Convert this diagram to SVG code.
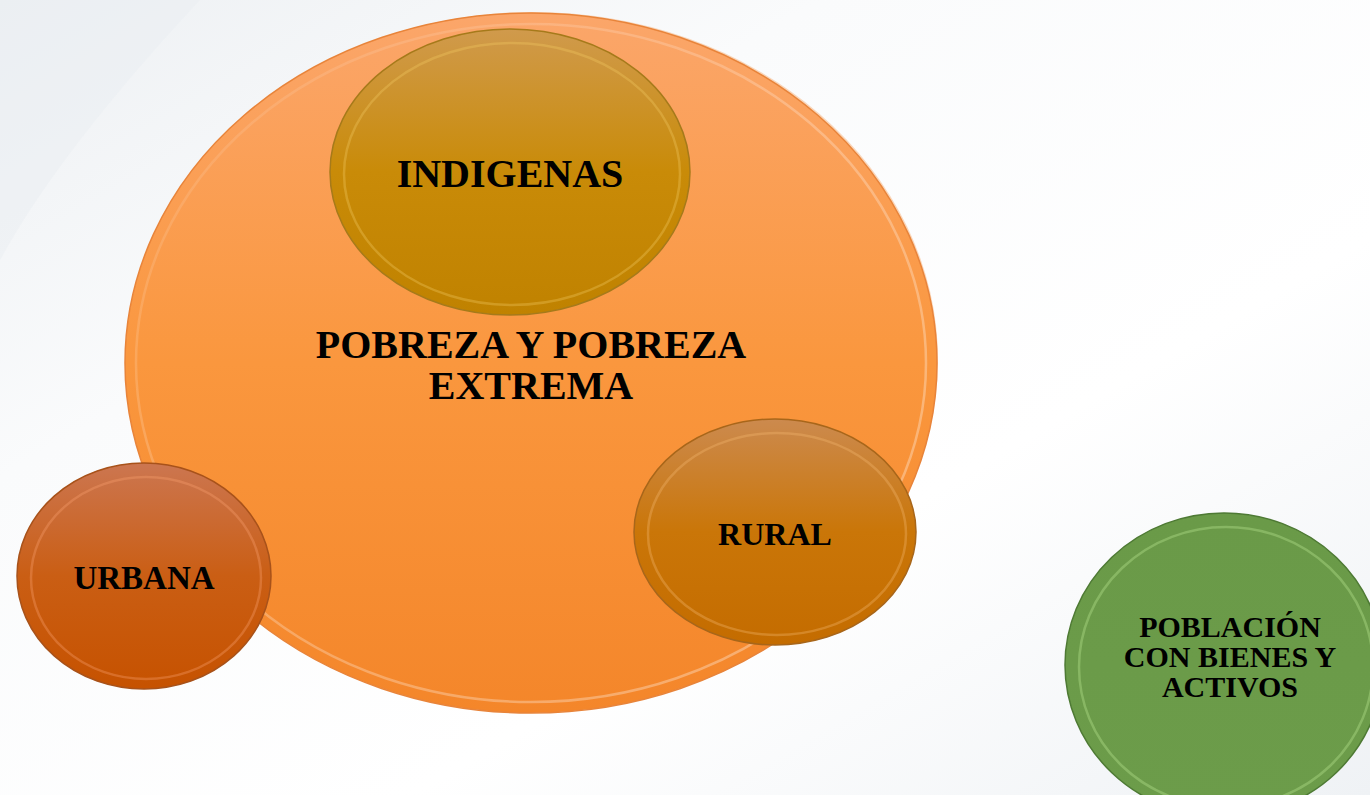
<svg xmlns="http://www.w3.org/2000/svg" width="1370" height="795" viewBox="0 0 1370 795">
<style>
text{font-family:"Liberation Serif","Times New Roman",serif;font-weight:bold;fill:#000;text-anchor:middle}
.rim{fill:none;stroke-width:2.5}
</style>
<defs>
<linearGradient id="bg" x1="0" y1="0" x2="1" y2="1">
<stop offset="0" stop-color="#edf0f3"/><stop offset="0.3" stop-color="#fafbfc"/><stop offset="0.65" stop-color="#ffffff"/><stop offset="1" stop-color="#eff2f5"/>
</linearGradient>
<linearGradient id="gBig" x1="0" y1="0" x2="0" y2="1">
<stop offset="0" stop-color="#fba66a"/><stop offset="0.5" stop-color="#fa973e"/><stop offset="1" stop-color="#f4862a"/>
</linearGradient>
<linearGradient id="gInd" x1="0" y1="0" x2="0" y2="1">
<stop offset="0" stop-color="#d09a4c"/><stop offset="0.5" stop-color="#c98b08"/><stop offset="1" stop-color="#c08200"/>
</linearGradient>
<linearGradient id="gUrb" x1="0" y1="0" x2="0" y2="1">
<stop offset="0" stop-color="#cc7650"/><stop offset="0.5" stop-color="#ca5e14"/><stop offset="1" stop-color="#c65200"/>
</linearGradient>
<linearGradient id="gRur" x1="0" y1="0" x2="0" y2="1">
<stop offset="0" stop-color="#cc8a4e"/><stop offset="0.5" stop-color="#ca7608"/><stop offset="1" stop-color="#c46c00"/>
</linearGradient>
<linearGradient id="gGrn" x1="0" y1="0" x2="0" y2="1">
<stop offset="0" stop-color="#6a9a48"/><stop offset="1" stop-color="#6c9c4a"/>
</linearGradient>
<linearGradient id="hl" x1="0" y1="0" x2="1" y2="1">
<stop offset="0" stop-color="#ffffff" stop-opacity="0.05"/><stop offset="0.5" stop-color="#ffffff" stop-opacity="0.25"/><stop offset="1" stop-color="#ffffff" stop-opacity="0.35"/>
</linearGradient>
</defs>
<rect width="1370" height="795" fill="url(#bg)"/>
<path d="M0 0 H200 Q60 150 0 260 Z" fill="#e9edf1" opacity="0.5"/>
<g id="node-pobreza">
<ellipse cx="534" cy="360" rx="404" ry="348" fill="#f8b27a" opacity="0.5"/>
<ellipse cx="531" cy="363" rx="406" ry="350" fill="url(#gBig)" stroke="#e8843a" stroke-width="1.5"/>
<ellipse cx="531" cy="363" rx="395" ry="339" class="rim" stroke="url(#hl)"/>
<text x="531" y="358" font-size="40">POBREZA Y POBREZA</text>
<text x="531" y="399" font-size="40">EXTREMA</text>
</g>
<g id="node-indigenas">
<ellipse cx="510" cy="172" rx="180" ry="143" fill="url(#gInd)" stroke="#a67a1a" stroke-width="1.5"/>
<ellipse cx="512" cy="174" rx="168" ry="131" class="rim" stroke="#f2c860" stroke-opacity="0.35"/>
<text x="510" y="187" font-size="40">INDIGENAS</text>
</g>
<g id="node-urbana">
<ellipse cx="144" cy="576" rx="127" ry="113" fill="url(#gUrb)" stroke="#a8521a" stroke-width="1.5"/>
<ellipse cx="146" cy="578" rx="115" ry="101" class="rim" stroke="#f8a070" stroke-opacity="0.35"/>
<text x="144" y="589" font-size="33">URBANA</text>
</g>
<g id="node-rural">
<ellipse cx="775" cy="532" rx="141" ry="113" fill="url(#gRur)" stroke="#a8661a" stroke-width="1.5"/>
<ellipse cx="777" cy="534" rx="129" ry="101" class="rim" stroke="#f4b870" stroke-opacity="0.35"/>
<text x="775" y="545" font-size="32">RURAL</text>
</g>
<g id="node-poblacion">
<ellipse cx="1224" cy="665" rx="159" ry="152" fill="url(#gGrn)" stroke="#4e7a34" stroke-width="1.5"/>
<ellipse cx="1226" cy="667" rx="147" ry="140" class="rim" stroke="#b4e08c" stroke-opacity="0.4"/>
<text x="1230" y="637" font-size="30">POBLACIÓN</text>
<text x="1230" y="667" font-size="30">CON BIENES Y</text>
<text x="1230" y="697" font-size="30">ACTIVOS</text>
</g>
<g id="connectors"></g>
</svg>
